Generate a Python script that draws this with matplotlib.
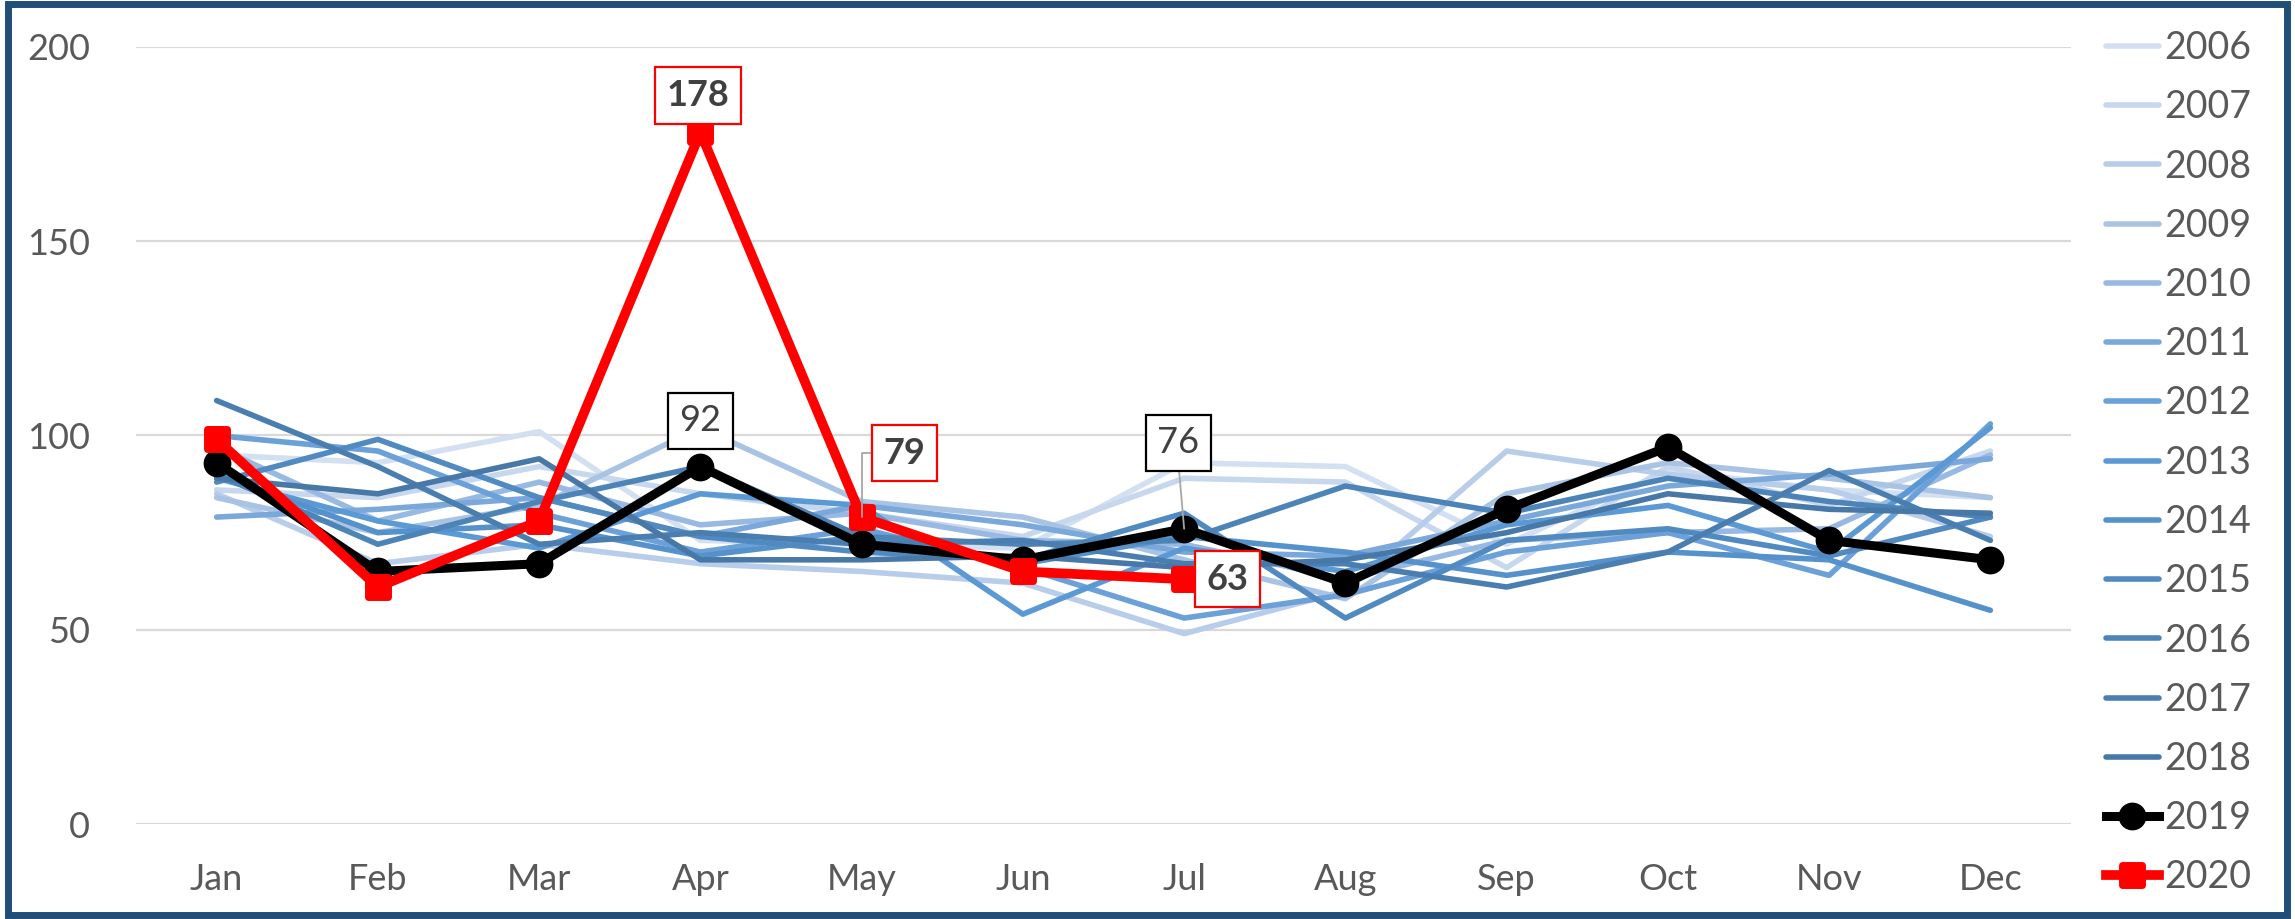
import matplotlib
matplotlib.use("Agg")
import matplotlib.pyplot as plt
from matplotlib.markers import MarkerStyle
from matplotlib.patches import Rectangle

# ------------------------------
# Data
# ------------------------------
MONTHS = ["Jan", "Feb", "Mar", "Apr", "May", "Jun",
          "Jul", "Aug", "Sep", "Oct", "Nov", "Dec"]

Y2006 = [95, 93, 101, 73, 72, 71, 93, 92, 72, 91, 86, 84]
Y2007 = [86, 84, 92, 85, 80, 74, 89, 88, 66, 92, 82, 96]
Y2008 = [85, 67, 72, 67, 65, 62, 49, 60, 96, 90, 86, 74]
Y2009 = [84, 75, 82, 102, 83, 79, 68, 58, 85, 93, 89, 84]
Y2010 = [97, 78, 88, 77, 80, 73, 72, 63, 73, 75, 76, 95]
Y2011 = [79, 81, 84, 74, 82, 77, 70, 69, 78, 87, 90, 94]
Y2012 = [100, 96, 80, 70, 76, 66, 53, 59, 70, 75, 64, 103]
Y2013 = [89, 78, 71, 85, 82, 54, 71, 65, 77, 82, 70, 102]
Y2014 = [90, 75, 77, 69, 74, 67, 74, 70, 64, 70, 68, 55]
Y2015 = [88, 99, 84, 74, 70, 68, 80, 53, 73, 76, 69, 79]
Y2016 = [90, 72, 83, 92, 74, 72, 73, 87, 80, 89, 83, 79]
Y2017 = [109, 92, 72, 75, 72, 73, 67, 67, 61, 70, 91, 73]
Y2018 = [89, 85, 94, 68, 68, 69, 66, 68, 75, 85, 81, 80]
Y2019 = [93, 65, 67, 92, 72, 68, 76, 62, 81, 97, 73, 68]
Y2020 = [99, 61, 78, 178, 79, 65, 63]

BLUE_YEARS = ["2006", "2007", "2008", "2009", "2010", "2011", "2012",
              "2013", "2014", "2015", "2016", "2017", "2018"]
BLUE_SERIES = [Y2006, Y2007, Y2008, Y2009, Y2010, Y2011, Y2012,
               Y2013, Y2014, Y2015, Y2016, Y2017, Y2018]
BLUE_COLORS = ["#D3E0F2", "#C6D7EE", "#B8CDE9", "#A9C3E5", "#98B9E1",
               "#7BA8DB", "#6BA0D9", "#5B99D4", "#5592CB", "#508AC1",
               "#4D84B8", "#4A7EB0", "#4878A8"]

TEXT_GRAY = "#595959"
LABEL_GRAY = "#404040"

plt.rcParams['font.family'] = ['Lato', 'DejaVu Sans']

W, H = 2295, 919
fig = plt.figure(figsize=(W / 100, H / 100), dpi=100)
ax = fig.add_axes([136 / W, (H - 824) / H, (2071 - 136) / W, (824 - 47) / H])

x = list(range(len(MONTHS)))

for year, vals, col in zip(BLUE_YEARS, BLUE_SERIES, BLUE_COLORS):
    ax.plot(x, vals, color=col, linewidth=4, label=year,
            solid_capstyle="round", zorder=2)

ax.plot(x, Y2019, color="black", linewidth=6.5, marker="o", markersize=19,
        label="2019", zorder=3)
sq = MarkerStyle("s", joinstyle="round")
ax.plot(x[:len(Y2020)], Y2020, color="#FF0000", linewidth=7, marker=sq,
        markersize=14, markeredgewidth=5, label="2020", zorder=4)

# data labels
def box_label(xi, yi, text, dx, dy, edge, bold, leader=None):
    kw = dict(boxstyle="square,pad=0.32", fc="white", ec=edge, lw=1.6)
    arrow = None
    if leader == "elbow":
        arrow = dict(arrowstyle="-", color="#A6A6A6", lw=1.3,
                     connectionstyle="angle,angleA=0,angleB=90,rad=0",
                     shrinkA=0, shrinkB=0, relpos=(0, 0.5))
    elif leader == "straight":
        arrow = dict(arrowstyle="-", color="#A6A6A6", lw=1.3,
                     shrinkA=0, shrinkB=0, relpos=(0.5, 0))
    ax.annotate(text, (xi, yi), xytext=(dx, dy), textcoords="offset pixels",
                ha="center", va="center", fontsize=26, color=LABEL_GRAY,
                fontweight="bold" if bold else "normal",
                bbox=kw, arrowprops=arrow, zorder=6)

box_label(3, Y2020[3], str(Y2020[3]), -2, 37, "#FF0000", True)
box_label(3, Y2019[3], str(Y2019[3]), 0, 46, "black", False)
box_label(4, Y2020[4], str(Y2020[4]), 43, 64, "#FF0000", True, "elbow")
box_label(6, Y2019[6], str(Y2019[6]), -6, 86, "black", False, "straight")
box_label(6, Y2020[6], str(Y2020[6]), 43, 0, "#FF0000", True)

ax.set_xlim(-0.5, 11.5)
ax.set_ylim(0, 200)
ax.set_yticks([0, 50, 100, 150, 200])
ax.set_xticks(x)
ax.set_xticklabels(MONTHS)
ax.tick_params(axis="both", length=0, labelsize=26, labelcolor=TEXT_GRAY)
ax.tick_params(axis="y", pad=33)
ax.tick_params(axis="x", pad=28)
ax.grid(axis="y", color="#D9D9D9", linewidth=1.6)
ax.set_axisbelow(True)
for s in ax.spines.values():
    s.set_visible(False)

leg = ax.legend(loc="upper left", bbox_to_anchor=(2106 / W, 1 - 30 / H),
                bbox_transform=fig.transFigure, frameon=False, fontsize=27,
                handlelength=1.4, handletextpad=0.15, labelspacing=0.62,
                borderpad=0, borderaxespad=0)
for t in leg.get_texts():
    t.set_color(TEXT_GRAY)

# outer border
fig.add_artist(Rectangle((8 / W, 4 / H), (2287 - 8) / W, (915 - 4) / H,
                         transform=fig.transFigure, fill=False,
                         edgecolor="#1F4E79", linewidth=5))

fig.savefig("out.png", dpi=100)
